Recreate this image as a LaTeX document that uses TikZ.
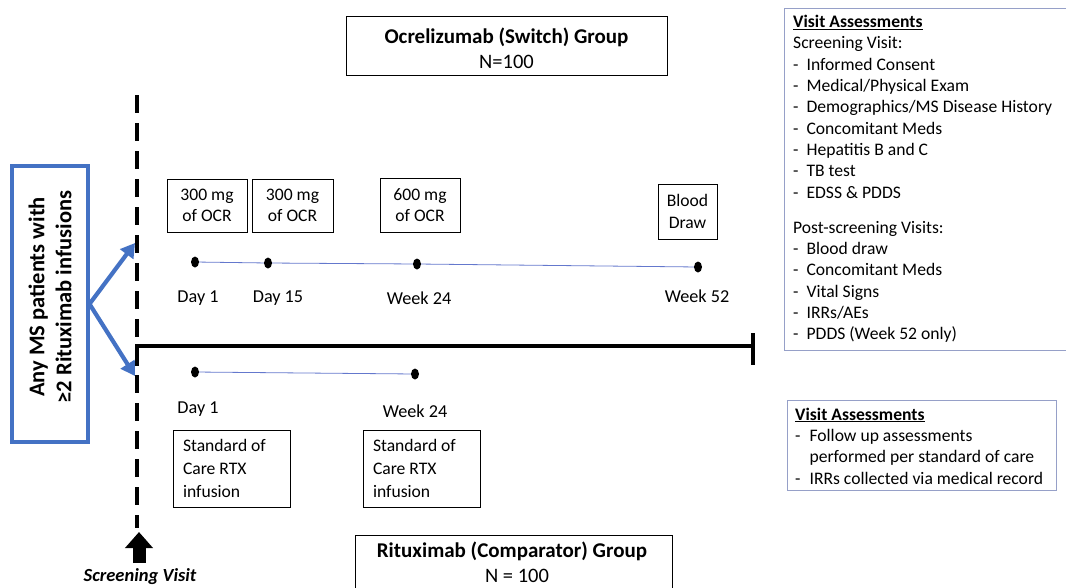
\documentclass[tikz,border=0pt]{standalone}
\usepackage{fontspec}
\setmainfont{Carlito}
\usetikzlibrary{arrows.meta,shapes.geometric}
\definecolor{obl}{RGB}{68,114,196}
\definecolor{tl}{RGB}{100,120,205}
\definecolor{gb}{RGB}{150,160,200}
\newcommand{\fs}{\fontsize{17.6}{21.3}\selectfont}
\newcommand{\fl}{\fontsize{18.2}{22}\selectfont}
\newcommand{\fb}{\fontsize{21}{24}\selectfont\bfseries}
\newcommand{\fn}{\fontsize{20.5}{24}\selectfont}
\begin{document}
\begin{tikzpicture}[x=1pt,y=-1pt,
  every node/.style={font=\fs},
  box/.style={draw, line width=0.8pt, align=center, inner sep=0pt},
  sbox/.style={draw, line width=0.8pt, align=flush left, text width=97pt, inner xsep=10pt, inner ysep=0pt, minimum height=77pt, font=\fontsize{17.6}{23}\selectfont},
  lab/.style={font=\fl},
  dot/.style={fill, ellipse, minimum width=8pt, minimum height=11pt, inner sep=0pt},
  tline/.style={draw=tl, line width=0.8pt},
  barrow/.style={draw=obl, line width=4.2pt, -{Triangle[length=14pt,width=16pt]}},
  abox/.style={draw=gb, line width=0.8pt}]
\useasboundingbox (0,0) rectangle (1066,587);

% group boxes
\node[box, minimum width=321pt, minimum height=59pt] (ocr) at (506.5,45.5) {};
\node (ocrt) at (506.5,37.5) {\fb Ocrelizumab (Switch) Group};
\node (ocrn) at (506.5,61.5) {\fn N=100};
\draw[line width=0.8pt] (355,535) rectangle (672,600);
\node (rtxt) at (512,551) {\fb Rituximab (Comparator) Group};
\node (rtxn) at (517,575.5) {\fn N = 100};

% screening line
\coordinate (s1) at (137,95);
\coordinate (s2) at (137,528);
\draw[line width=4pt, dash pattern=on 18pt off 10pt] (s1) -- (s2);
\coordinate (a1) at (139,563);
\coordinate (a2) at (139,532);
\draw[line width=13pt, -{Triangle[length=16pt,width=27pt]}] (a1) -- (a2);
\node (sv) at (140,577) {\fontsize{18.5}{22}\selectfont\bfseries\itshape Screening Visit};

% thick timeline
\coordinate (h0) at (137,366);
\coordinate (h1) at (137,346);
\coordinate (h2) at (753,346);
\coordinate (b1) at (753,333);
\coordinate (b2) at (753,365);
\draw[line width=4.5pt] (h0) -- (h1) -- (h2);
\draw[line width=4.5pt] (b1) -- (b2);

% patient box
\node[draw=obl, line width=4pt, minimum width=76pt, minimum height=276pt, inner sep=0pt] (pat) at (49.5,304) {};
\node[rotate=90, align=center, font=\fontsize{22.5}{27}\selectfont\bfseries] (patt) at (50,297) {Any MS patients with\\≥2 Rituximab infusions};
\coordinate (up) at (135,243);
\coordinate (dn) at (135,376);
\draw[barrow] (pat.east) -- (up);
\draw[barrow] (pat.east) -- (dn);

% ocr timeline
\node[dot] (d1) at (195,262) {};
\node[dot] (d2) at (268,263) {};
\node[dot] (d3) at (417,264) {};
\node[dot] (d4) at (698,267) {};
\draw[tline] (d1) -- (d2) -- (d3) -- (d4);
\node[lab] (l1) at (198,298) {Day 1};
\node[lab] (l2) at (278,298) {Day 15};
\node[lab] (l3) at (419,298) {Week 24};
\node[lab] (l4) at (697,296) {Week 52};
\node[box, minimum width=80pt, minimum height=53pt] (o1) at (207,205.5) {300 mg\\of OCR};
\node[box, minimum width=81pt, minimum height=53pt] (o2) at (292.5,205.5) {300 mg\\of OCR};
\node[box, minimum width=80pt, minimum height=54pt] (o3) at (420,205) {600 mg\\of OCR};
\node[box, minimum width=59pt, minimum height=55pt] (o4) at (687.5,211.5) {Blood\\Draw};

% rtx timeline
\node[dot] (r1) at (195,372) {};
\node[dot] (r2) at (415,374) {};
\draw[tline] (r1) -- (r2);
\node[lab] (m1) at (198,409) {Day 1};
\node[lab] (m2) at (415,411) {Week 24};
\node[sbox] (s1b) at (231.5,468.5) {Standard of\\Care RTX\\infusion};
\node[sbox] (s2b) at (421.5,468.5) {Standard of\\Care RTX\\infusion};

% assessment boxes
\draw[abox] (784,8) rectangle (1070,350);
\node[anchor=north west, inner sep=0pt] (va1) at (793,12.5) {\fs\renewcommand\arraystretch{1}%
\begin{tabular}{@{}l@{\hspace{8pt}}l@{}}
\multicolumn{2}{@{}l}{\textbf{\underline{Visit Assessments}}}\\
\multicolumn{2}{@{}l}{Screening Visit:}\\
-& Informed Consent\\
-& Medical/Physical Exam\\
-& Demographics/MS Disease History\\
-& Concomitant Meds\\
-& Hepatitis B and C\\
-& TB test\\
-& EDSS \& PDDS\\[14pt]
\multicolumn{2}{@{}l}{Post-screening Visits:}\\
-& Blood draw\\
-& Concomitant Meds\\
-& Vital Signs\\
-& IRRs/AEs\\
-& PDDS (Week 52 only)
\end{tabular}};
\draw[abox] (787,400) rectangle (1056,490);
\node[anchor=north west, inner sep=0pt] (va2) at (795,405) {\fs\renewcommand\arraystretch{1}%
\begin{tabular}{@{}l@{\hspace{9pt}}l@{}}
\multicolumn{2}{@{}l}{\textbf{\underline{Visit Assessments}}}\\
-& Follow up assessments\\
 & performed per standard of care\\
-& IRRs collected via medical record
\end{tabular}};
\end{tikzpicture}
\end{document}
